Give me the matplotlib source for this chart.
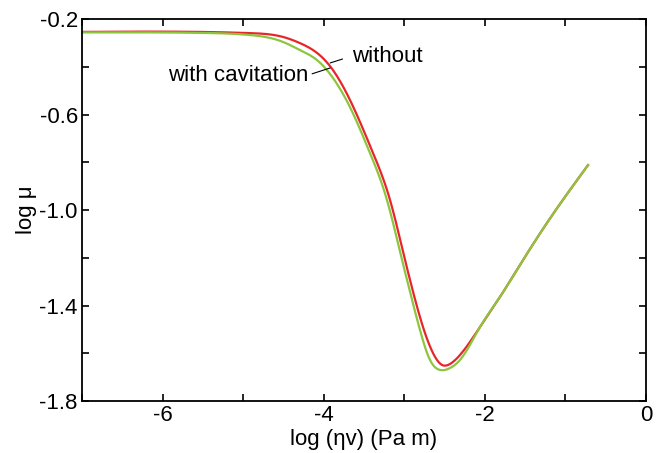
import numpy as np
import matplotlib.pyplot as plt
from matplotlib.ticker import FixedLocator, FormatStrFormatter

plt.rcParams['font.family'] = ['Liberation Sans', 'DejaVu Sans']
plt.rcParams['axes.unicode_minus'] = False

# curves: log(eta v) vs log mu
x_without = [-7.0, -5.535, -4.915, -4.505, -4.294, -4.083, -3.885, -3.674, -3.388,
             -3.177, -2.991, -2.929, -2.768, -2.644, -2.532, -2.433, -2.308, -2.06,
             -1.812, -1.564, -1.229, -0.72]
y_without = [-0.254, -0.254, -0.259, -0.275, -0.301, -0.342, -0.414, -0.539, -0.761,
             -0.958, -1.209, -1.293, -1.49, -1.599, -1.649, -1.645, -1.607, -1.49,
             -1.364, -1.23, -1.054, -0.812]

x_cav = [-7.0, -5.535, -4.915, -4.505, -4.294, -4.083, -3.885, -3.674, -3.426, -3.215,
         -3.028, -2.966, -2.805, -2.681, -2.557, -2.433, -2.308, -2.06, -1.812, -1.564,
         -1.229, -0.72]
y_cav = [-0.256, -0.258, -0.267, -0.296, -0.33, -0.372, -0.447, -0.569, -0.761, -0.958,
         -1.209, -1.293, -1.503, -1.628, -1.67, -1.662, -1.628, -1.49, -1.364, -1.23,
         -1.054, -0.812]

x_ticks = [-6, -4, -2, 0]
x_minor = [-7, -5, -3, -1]
y_ticks = [-1.8, -1.4, -1.0, -0.6, -0.2]
y_minor = [-1.6, -1.2, -0.8, -0.4]


def spline(x, y, n=600):
    # natural cubic spline, x is increasing
    x = np.asarray(x, float)
    y = np.asarray(y, float)
    m = len(x)
    h = np.diff(x)
    A = np.zeros((m, m))
    b = np.zeros(m)
    A[0, 0] = A[-1, -1] = 1
    for i in range(1, m - 1):
        A[i, i - 1] = h[i - 1]
        A[i, i] = 2 * (h[i - 1] + h[i])
        A[i, i + 1] = h[i]
        b[i] = 3 * ((y[i + 1] - y[i]) / h[i] - (y[i] - y[i - 1]) / h[i - 1])
    c = np.linalg.solve(A, b)
    xs = np.linspace(x[0], x[-1], n)
    k = np.clip(np.searchsorted(x, xs) - 1, 0, m - 2)
    d = xs - x[k]
    bb = (y[k + 1] - y[k]) / h[k] - h[k] * (2 * c[k] + c[k + 1]) / 3
    dd = (c[k + 1] - c[k]) / (3 * h[k])
    return xs, y[k] + bb * d + c[k] * d ** 2 + dd * d ** 3


fig = plt.figure(figsize=(6.66, 4.53), dpi=100)
ax = fig.add_axes([0.1231, 0.1148, 0.8469, 0.8432])

xs, ys = spline(x_without, y_without)
ax.plot(xs, ys, color='#e8262a', lw=1.6)
xs, ys = spline(x_cav, y_cav)
ax.plot(xs, ys, color='#8cc63f', lw=1.6)

ax.set_xlim(-7, 0)
ax.set_ylim(-1.8, -0.2)
ax.xaxis.set_major_locator(FixedLocator(x_ticks))
ax.xaxis.set_minor_locator(FixedLocator(x_minor))
ax.yaxis.set_major_locator(FixedLocator(y_ticks))
ax.yaxis.set_minor_locator(FixedLocator(y_minor))
ax.yaxis.set_major_formatter(FormatStrFormatter('%.1f'))
ax.tick_params(which='both', direction='in', top=True, right=True, length=5, width=1.2,
               labelsize=16, pad=3)
for s in ax.spines.values():
    s.set_linewidth(1.3)

ax.set_xlabel('log (ηv) (Pa m)', fontsize=16, labelpad=2)
ax.set_ylabel('log μ', fontsize=16, labelpad=2)

ax.annotate('without', xy=(-3.92, -0.384), xytext=(-3.65, -0.355), fontsize=16,
            ha='left', va='center',
            arrowprops=dict(arrowstyle='-', color='black', lw=0.8, relpos=(0, 0.5),
                            shrinkA=5, shrinkB=0))
ax.annotate('with cavitation', xy=(-3.92, -0.405), xytext=(-4.195, -0.435), fontsize=16,
            ha='right', va='center',
            arrowprops=dict(arrowstyle='-', color='black', lw=0.8, relpos=(1, 0.5),
                            shrinkA=1, shrinkB=0))

fig.savefig('out.png', dpi=100)
